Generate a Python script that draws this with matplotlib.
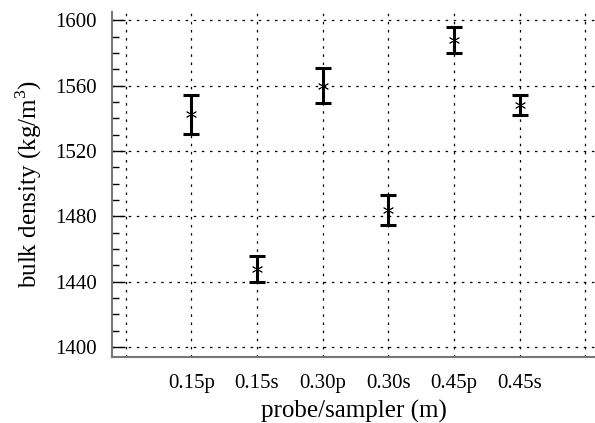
import matplotlib
matplotlib.use("Agg")
import matplotlib.pyplot as plt
from matplotlib.ticker import MultipleLocator

categories = ["0.15p", "0.15s", "0.30p", "0.30s", "0.45p", "0.45s"]
density = [1542.5, 1448, 1560, 1484, 1588, 1548]
err = [12, 8, 10.5, 9, 8, 6]

plt.rcParams['font.family'] = ['Liberation Serif', 'DejaVu Serif']
plt.rcParams['mathtext.fontset'] = 'custom'
plt.rcParams['mathtext.rm'] = 'Liberation Serif'

fig = plt.figure(figsize=(5.95, 4.23), dpi=100)
ax = fig.add_axes([112/595, 1 - 357/423, 483/595, 345/423])

xs = list(range(1, len(categories) + 1))
ax.errorbar(xs, density, yerr=err, fmt='none', ecolor='black',
            elinewidth=2.2, capsize=6, capthick=2.2, zorder=3)
ax.plot(xs, density, linestyle='none', marker=(6, 2, 0), markersize=8,
        color='black', markeredgewidth=0.6, zorder=4)

ax.set_xlim(-0.21, 7.15)
ax.set_ylim(1394, 1605)
ax.set_xticks(range(0, 8))
ax.set_xticklabels([""] + categories + [""])
ax.yaxis.set_major_locator(MultipleLocator(40))
ax.yaxis.set_minor_locator(MultipleLocator(10))

ax.grid(True, which='major', color='black', linestyle=(0, (2, 4.5)), linewidth=0.9)
for s in ['top', 'right']:
    ax.spines[s].set_visible(False)
for s in ['left', 'bottom']:
    ax.spines[s].set_color('#777777')
    ax.spines[s].set_linewidth(1.5)

ax.tick_params(axis='x', length=0, labelsize=15, pad=12)
ax.tick_params(axis='y', which='major', direction='in', length=9, width=1,
               labelsize=15, pad=11)
ax.tick_params(axis='y', which='minor', direction='in', length=5, width=1)

ax.set_xlabel("probe/sampler (m)", fontsize=18, labelpad=5)
ax.set_ylabel("bulk density (kg/m$^3$)", fontsize=18, labelpad=8)

fig.savefig("out.png", dpi=100)
